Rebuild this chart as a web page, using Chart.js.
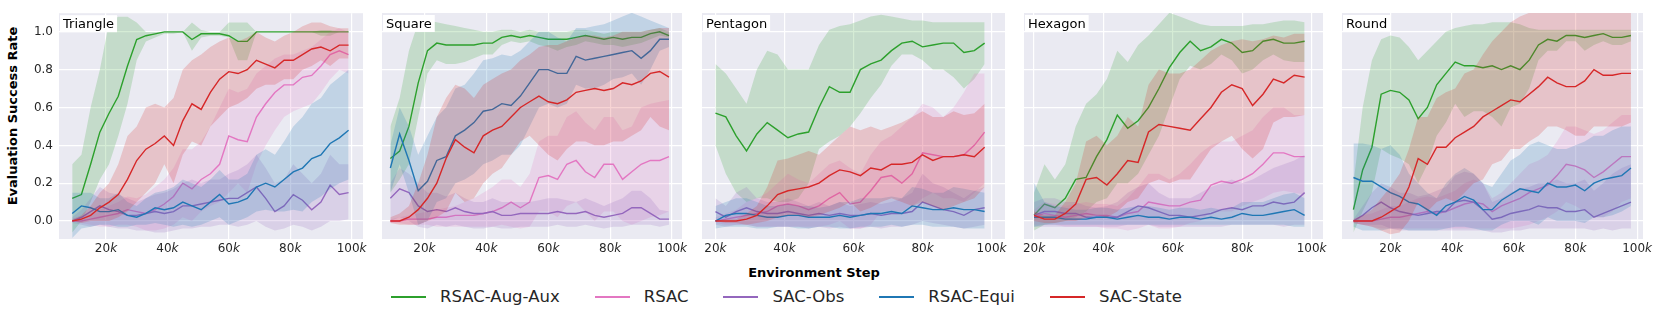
<!DOCTYPE html>
<html>
<head>
<meta charset="utf-8">
<script src="https://cdn.jsdelivr.net/npm/chart.js@4.4.0/dist/chart.umd.min.js"></script>
<style>
body { margin: 0; background: #fff; width: 1661px; height: 313px; overflow: hidden; position: relative; font-family: "DejaVu Sans", sans-serif; color: #262626; }
canvas { position: absolute; top: 0; }
#ylabel { position: absolute; left: 12px; top: 116px; transform: translate(-50%, -50%) rotate(-90deg); font-weight: bold; font-size: 13px; white-space: nowrap; color: #000; }
#xlabel { position: absolute; left: 814px; top: 272px; transform: translate(-50%, -50%); font-weight: bold; font-size: 13px; white-space: nowrap; color: #000; }
#legend { position: absolute; left: 391px; top: 286px; display: flex; align-items: center; font-size: 16.5px; height: 21px; }
.item { display: flex; align-items: center; margin-right: 35px; }
.swatch { width: 35px; height: 2px; margin-right: 14px; }
</style>
</head>
<body>
<div id="ylabel">Evaluation Success Rate</div>
<div id="xlabel">Environment Step</div>
<div id="legend"></div>
<script>
const shapes = ["Triangle", "Square", "Pentagon", "Hexagon", "Round"]
const methods = ["RSAC-Aug-Aux", "RSAC", "SAC-Obs", "RSAC-Equi", "SAC-State"]
const colors = ["44,160,44", "227,119,194", "148,103,189", "31,119,180", "214,39,40"]
const yTicks = [0.0, 0.2, 0.4, 0.6, 0.8, 1.0]
const xTicks = [20, 40, 60, 80, 100]

// environment steps (thousands)
const triSteps = [9,12,15,18,21,24,27,30,33,36,39,42,45,48,51,54,57,60,63,66,69,72,75,78,81,84,87,90,93,96,99]
const sqSteps = [9,12,15,18,21,24,27,30,33,36,39,42,45,48,51,54,57,60,63,66,69,72,75,78,81,84,87,90,93,96,99]
const pentSteps = [20,23,26,29,32,35,38,41,44,47,50,53,56,59,62,65,68,71,74,77,80,83,86,89,92,95,98]
const hexSteps = [20,23,26,29,32,35,38,41,44,47,50,53,56,59,62,65,68,71,74,77,80,83,86,89,92,95,98]
const rndSteps = [8,11,14,17,20,23,26,29,32,35,38,41,44,47,50,53,56,59,62,65,68,71,74,77,80,83,86,89,92,95,98]

// Triangle
const triAugAux = [0.12,0.14,0.3,0.47,0.57,0.66,0.82,0.96,0.98,0.99,1.0,1.0,1.0,0.96,0.99,0.99,0.99,0.98,0.95,0.95,1.0,1.0,1.0,1.0,1.0,1.0,1.0,1.0,1.0,1.0,1.0]
const triAugAuxLo = [-0.06,0.0,0.1,0.22,0.3,0.45,0.62,0.85,0.95,0.97,0.99,0.99,1.0,0.9,0.97,0.98,0.98,0.97,0.85,0.85,1.0,1.0,1.0,1.0,1.0,1.0,1.0,0.98,0.98,1.0,1.0]
const triAugAuxHi = [0.3,0.35,0.6,0.8,1.05,1.08,1.08,1.05,1.0,1.0,1.0,1.0,1.0,1.05,1.01,1.0,1.0,1.05,1.05,1.05,1.0,1.0,1.0,1.0,1.0,1.0,1.0,1.01,1.01,1.0,1.0]
const triRsac = [0.0,0.0,0.01,0.02,0.03,0.04,0.06,0.05,0.04,0.06,0.09,0.13,0.2,0.17,0.22,0.25,0.3,0.45,0.43,0.42,0.55,0.62,0.68,0.72,0.72,0.76,0.77,0.82,0.88,0.9,0.88]
const triRsacLo = [0.0,-0.01,-0.02,-0.03,-0.03,-0.02,-0.02,-0.03,-0.05,-0.05,-0.04,-0.02,0.02,0.0,0.05,0.08,0.1,0.15,0.2,0.15,0.3,0.4,0.48,0.55,0.58,0.6,0.62,0.68,0.75,0.8,0.78]
const triRsacHi = [0.01,0.02,0.04,0.06,0.08,0.1,0.13,0.12,0.14,0.18,0.22,0.28,0.38,0.38,0.42,0.5,0.6,0.7,0.68,0.7,0.78,0.82,0.86,0.88,0.88,0.9,0.92,0.96,1.0,1.02,1.0]
const triSacObs = [0.0,0.02,0.05,0.08,0.06,0.05,0.03,0.03,0.04,0.05,0.04,0.05,0.08,0.08,0.09,0.1,0.11,0.12,0.12,0.15,0.18,0.12,0.05,0.08,0.14,0.11,0.06,0.1,0.19,0.14,0.15]
const triSacObsLo = [-0.01,-0.02,-0.03,-0.02,-0.03,-0.04,-0.04,-0.05,-0.05,-0.06,-0.06,-0.05,-0.04,-0.04,-0.03,-0.03,-0.02,-0.02,-0.03,-0.02,0.0,-0.03,-0.05,-0.04,-0.02,-0.03,-0.05,-0.03,0.0,0.0,0.01]
const triSacObsHi = [0.02,0.06,0.12,0.18,0.15,0.14,0.12,0.1,0.12,0.14,0.15,0.17,0.2,0.22,0.2,0.22,0.22,0.25,0.27,0.3,0.35,0.28,0.2,0.22,0.3,0.25,0.2,0.25,0.35,0.3,0.3]
const triRsacEqui = [0.04,0.08,0.07,0.05,0.05,0.06,0.03,0.02,0.04,0.07,0.06,0.07,0.1,0.08,0.06,0.1,0.14,0.09,0.1,0.12,0.18,0.2,0.18,0.22,0.26,0.28,0.33,0.35,0.41,0.44,0.48]
const triRsacEquiLo = [-0.09,-0.04,-0.03,-0.02,-0.02,-0.03,-0.03,-0.02,-0.02,-0.01,-0.02,-0.03,-0.02,-0.03,-0.02,0.0,0.02,-0.02,0.0,0.02,0.05,0.06,0.05,0.05,0.06,0.05,0.1,0.13,0.17,0.2,0.22]
const triRsacEquiHi = [0.15,0.15,0.15,0.12,0.12,0.15,0.1,0.08,0.12,0.15,0.16,0.18,0.22,0.2,0.18,0.22,0.27,0.22,0.22,0.25,0.35,0.38,0.35,0.42,0.5,0.55,0.62,0.65,0.72,0.76,0.8]
const triSacState = [0.0,0.01,0.03,0.07,0.1,0.14,0.22,0.32,0.38,0.41,0.45,0.4,0.53,0.62,0.59,0.68,0.75,0.79,0.78,0.8,0.85,0.83,0.81,0.85,0.85,0.88,0.91,0.92,0.9,0.93,0.93]
const triSacStateLo = [0.0,-0.01,0.0,0.0,0.0,0.02,0.05,0.1,0.15,0.2,0.3,0.2,0.35,0.42,0.4,0.5,0.55,0.6,0.62,0.65,0.7,0.72,0.72,0.75,0.75,0.8,0.82,0.85,0.82,0.86,0.86]
const triSacStateHi = [0.01,0.03,0.08,0.15,0.2,0.3,0.45,0.5,0.6,0.62,0.6,0.65,0.8,0.85,0.88,0.92,0.95,0.97,0.95,0.97,1.0,0.97,0.95,0.98,1.0,1.03,1.05,1.05,1.03,1.02,1.02]

// Square
const sqAugAux = [0.33,0.37,0.5,0.73,0.9,0.94,0.93,0.93,0.93,0.93,0.94,0.94,0.97,0.98,0.97,0.98,0.97,0.96,0.96,0.96,0.97,0.98,0.97,0.96,0.97,0.96,0.97,0.97,0.99,1.0,0.98]
const sqAugAuxLo = [0.15,0.22,0.3,0.55,0.78,0.85,0.83,0.83,0.84,0.86,0.88,0.88,0.93,0.95,0.94,0.95,0.93,0.92,0.9,0.92,0.93,0.95,0.94,0.93,0.93,0.92,0.93,0.94,0.96,0.98,0.97]
const sqAugAuxHi = [0.5,0.65,0.9,1.05,1.06,1.05,1.04,1.03,1.02,1.01,1.0,1.0,1.01,1.01,1.0,1.01,1.0,1.0,1.0,1.0,1.01,1.01,1.0,0.99,1.0,1.0,1.0,1.0,1.01,1.02,1.0]
const sqRsac = [0.0,0.0,0.01,0.01,0.01,0.02,0.02,0.03,0.03,0.03,0.04,0.05,0.07,0.1,0.07,0.1,0.23,0.24,0.22,0.3,0.32,0.26,0.23,0.3,0.3,0.22,0.26,0.3,0.32,0.32,0.34]
const sqRsacLo = [-0.01,-0.01,-0.02,-0.02,-0.02,-0.03,-0.03,-0.03,-0.03,-0.03,-0.03,-0.03,-0.02,-0.03,-0.04,-0.03,0.05,0.05,0.02,0.08,0.1,0.05,0.0,0.05,0.05,0.0,-0.02,0.0,0.02,0.03,0.05]
const sqRsacHi = [0.01,0.02,0.03,0.04,0.05,0.06,0.07,0.08,0.1,0.12,0.15,0.18,0.22,0.22,0.18,0.25,0.42,0.45,0.45,0.55,0.58,0.52,0.48,0.55,0.55,0.48,0.5,0.6,0.62,0.63,0.64]
const sqSacObs = [0.12,0.17,0.15,0.08,0.05,0.06,0.05,0.07,0.05,0.04,0.04,0.05,0.03,0.03,0.04,0.04,0.04,0.04,0.05,0.04,0.04,0.05,0.03,0.02,0.03,0.04,0.07,0.07,0.04,0.01,0.01]
const sqSacObsLo = [0.0,0.02,0.0,-0.03,-0.04,-0.02,-0.03,-0.02,-0.03,-0.04,-0.04,-0.03,-0.04,-0.04,-0.03,-0.03,-0.03,-0.03,-0.02,-0.03,-0.03,-0.02,-0.03,-0.04,-0.03,-0.03,-0.02,-0.02,-0.02,-0.03,-0.02]
const sqSacObsHi = [0.2,0.28,0.25,0.2,0.15,0.15,0.13,0.15,0.12,0.1,0.1,0.12,0.1,0.1,0.1,0.1,0.11,0.12,0.12,0.11,0.1,0.12,0.1,0.08,0.1,0.12,0.16,0.16,0.12,0.06,0.05]
const sqRsacEqui = [0.28,0.46,0.32,0.16,0.21,0.32,0.34,0.45,0.48,0.52,0.58,0.59,0.62,0.61,0.66,0.73,0.8,0.8,0.78,0.78,0.87,0.85,0.86,0.87,0.88,0.89,0.9,0.86,0.9,0.96,0.96]
const sqRsacEquiLo = [0.15,0.3,0.15,-0.02,0.0,0.1,0.12,0.2,0.22,0.25,0.3,0.32,0.35,0.35,0.4,0.5,0.6,0.62,0.6,0.62,0.72,0.7,0.7,0.72,0.75,0.76,0.78,0.72,0.8,0.9,0.92]
const sqRsacEquiHi = [0.4,0.6,0.5,0.35,0.45,0.55,0.6,0.7,0.72,0.78,0.85,0.86,0.88,0.87,0.9,0.95,1.0,1.0,0.97,0.95,1.02,1.02,1.03,1.04,1.06,1.08,1.1,1.08,1.06,1.04,1.02]
const sqSacState = [0.0,0.0,0.02,0.06,0.12,0.2,0.33,0.43,0.39,0.36,0.45,0.48,0.5,0.55,0.6,0.63,0.66,0.63,0.62,0.64,0.68,0.69,0.7,0.69,0.7,0.73,0.72,0.74,0.78,0.79,0.76]
const sqSacStateLo = [-0.01,-0.02,-0.02,-0.02,0.0,0.02,0.05,0.15,0.1,0.12,0.2,0.25,0.28,0.35,0.42,0.45,0.4,0.35,0.32,0.38,0.42,0.42,0.4,0.4,0.42,0.42,0.45,0.48,0.55,0.5,0.48]
const sqSacStateHi = [0.02,0.04,0.08,0.2,0.35,0.55,0.65,0.72,0.7,0.65,0.72,0.75,0.78,0.8,0.85,0.88,0.92,0.93,0.93,0.95,0.97,0.98,0.98,0.97,0.98,1.0,1.0,1.0,1.01,1.02,1.02]

// Pentagon
const pentAugAux = [0.57,0.55,0.45,0.37,0.46,0.52,0.48,0.44,0.46,0.47,0.6,0.71,0.68,0.68,0.8,0.83,0.85,0.9,0.94,0.95,0.92,0.93,0.94,0.94,0.89,0.9,0.94]
const pentAugAuxLo = [0.4,0.25,0.15,0.1,0.12,0.12,0.1,0.1,0.12,0.2,0.38,0.42,0.45,0.5,0.57,0.65,0.72,0.82,0.88,0.88,0.85,0.8,0.8,0.76,0.7,0.75,0.83]
const pentAugAuxHi = [0.83,0.78,0.7,0.62,0.8,0.9,0.88,0.8,0.8,0.8,0.93,1.01,1.03,1.04,1.06,1.08,1.09,1.08,1.07,1.06,1.06,1.05,1.05,1.05,1.05,1.05,1.05]
const pentRsac = [0.0,0.01,0.02,0.03,0.04,0.05,0.08,0.09,0.08,0.06,0.08,0.12,0.15,0.09,0.1,0.16,0.23,0.24,0.2,0.25,0.36,0.35,0.34,0.34,0.35,0.4,0.47]
const pentRsacLo = [-0.01,-0.02,-0.02,-0.02,-0.03,-0.03,-0.03,-0.03,-0.03,-0.03,-0.03,-0.02,0.0,-0.04,-0.04,-0.02,0.05,0.05,0.05,0.08,0.12,0.15,0.12,0.12,0.1,0.15,0.2]
const pentRsacHi = [0.02,0.04,0.06,0.1,0.12,0.15,0.2,0.25,0.22,0.2,0.25,0.3,0.32,0.28,0.25,0.35,0.42,0.45,0.5,0.55,0.62,0.6,0.55,0.6,0.68,0.78,0.78]
const pentSacObs = [0.05,0.02,0.05,0.07,0.05,0.04,0.04,0.05,0.04,0.03,0.04,0.03,0.04,0.03,0.03,0.04,0.03,0.04,0.04,0.05,0.1,0.08,0.06,0.05,0.03,0.06,0.07]
const pentSacObsLo = [-0.02,-0.03,-0.02,-0.02,-0.03,-0.03,-0.03,-0.03,-0.03,-0.04,-0.03,-0.04,-0.03,-0.04,-0.04,-0.03,-0.04,-0.03,-0.03,-0.02,0.0,-0.01,-0.02,-0.03,-0.04,-0.03,-0.02]
const pentSacObsHi = [0.12,0.08,0.15,0.18,0.12,0.1,0.1,0.12,0.1,0.08,0.1,0.08,0.1,0.08,0.09,0.1,0.09,0.1,0.12,0.15,0.25,0.2,0.18,0.15,0.12,0.16,0.18]
const pentRsacEqui = [0.0,0.03,0.04,0.04,0.03,0.02,0.02,0.03,0.03,0.02,0.02,0.02,0.03,0.02,0.03,0.04,0.04,0.05,0.04,0.08,0.07,0.06,0.06,0.07,0.06,0.06,0.05]
const pentRsacEquiLo = [-0.04,-0.03,-0.03,-0.03,-0.04,-0.04,-0.03,-0.03,-0.04,-0.04,-0.03,-0.03,-0.04,-0.04,-0.03,-0.03,-0.03,-0.02,-0.03,-0.02,-0.02,-0.03,-0.03,-0.03,-0.04,-0.04,-0.04]
const pentRsacEquiHi = [0.08,0.1,0.12,0.12,0.1,0.08,0.08,0.09,0.08,0.08,0.07,0.08,0.1,0.1,0.12,0.12,0.12,0.13,0.12,0.18,0.17,0.15,0.15,0.18,0.17,0.16,0.15]
const pentSacState = [0.0,0.0,0.0,0.01,0.03,0.08,0.14,0.16,0.17,0.18,0.2,0.24,0.27,0.26,0.24,0.28,0.27,0.3,0.3,0.31,0.35,0.32,0.34,0.34,0.35,0.34,0.39]
const pentSacStateLo = [0.0,-0.01,-0.01,-0.02,-0.01,0.0,0.02,0.03,0.03,0.02,0.03,0.05,0.07,0.1,0.05,0.07,0.1,0.12,0.1,0.08,0.1,0.08,0.06,0.08,0.1,0.12,0.18]
const pentSacStateHi = [0.0,0.01,0.01,0.04,0.08,0.18,0.32,0.33,0.35,0.37,0.35,0.4,0.45,0.5,0.48,0.5,0.48,0.5,0.52,0.55,0.58,0.55,0.55,0.58,0.56,0.57,0.62]

// Hexagon
const hexAugAux = [0.03,0.09,0.07,0.12,0.22,0.23,0.34,0.43,0.56,0.49,0.53,0.6,0.7,0.81,0.89,0.95,0.9,0.92,0.96,0.94,0.89,0.9,0.95,0.96,0.94,0.94,0.95]
const hexAugAuxLo = [-0.05,-0.02,-0.01,0.0,0.02,0.05,0.1,0.12,0.2,0.2,0.25,0.35,0.45,0.6,0.75,0.82,0.8,0.83,0.88,0.85,0.78,0.8,0.85,0.88,0.85,0.84,0.84]
const hexAugAuxHi = [0.15,0.3,0.22,0.3,0.5,0.62,0.67,0.75,0.9,0.84,0.93,0.98,1.04,1.1,1.08,1.06,1.04,1.03,1.03,1.03,1.03,1.04,1.04,1.05,1.06,1.06,1.05]
const hexRsac = [0.02,0.04,0.03,0.02,0.03,0.04,0.03,0.03,0.02,0.04,0.05,0.1,0.09,0.08,0.08,0.1,0.11,0.19,0.21,0.2,0.22,0.25,0.3,0.36,0.36,0.34,0.34]
const hexRsacLo = [-0.02,-0.02,-0.02,-0.03,-0.03,-0.03,-0.03,-0.04,-0.04,-0.05,-0.04,-0.02,-0.04,-0.04,-0.03,-0.01,0.0,0.05,0.05,0.05,0.08,0.1,0.12,0.15,0.16,0.15,0.14]
const hexRsacHi = [0.06,0.1,0.09,0.08,0.09,0.1,0.09,0.09,0.08,0.12,0.18,0.25,0.25,0.22,0.25,0.3,0.36,0.4,0.42,0.42,0.45,0.48,0.55,0.6,0.6,0.56,0.56]
const hexSacObs = [0.03,0.05,0.05,0.04,0.04,0.02,0.02,0.02,0.02,0.05,0.08,0.07,0.05,0.03,0.03,0.02,0.03,0.04,0.06,0.07,0.06,0.08,0.08,0.1,0.09,0.1,0.15]
const hexSacObsLo = [-0.03,-0.03,-0.03,-0.03,-0.03,-0.03,-0.03,-0.03,-0.03,-0.02,-0.02,-0.02,-0.03,-0.03,-0.03,-0.03,-0.03,-0.03,-0.03,-0.02,-0.02,-0.02,-0.02,-0.02,-0.03,-0.02,-0.02]
const hexSacObsHi = [0.1,0.12,0.12,0.1,0.1,0.08,0.07,0.08,0.1,0.15,0.18,0.2,0.15,0.12,0.12,0.12,0.15,0.18,0.2,0.22,0.2,0.22,0.25,0.28,0.3,0.32,0.35]
const hexRsacEqui = [0.02,0.02,0.02,0.01,0.01,0.01,0.02,0.02,0.01,0.02,0.03,0.02,0.02,0.01,0.02,0.02,0.01,0.02,0.01,0.02,0.04,0.03,0.03,0.04,0.05,0.06,0.03]
const hexRsacEquiLo = [-0.03,-0.02,-0.02,-0.02,-0.02,-0.02,-0.02,-0.02,-0.02,-0.02,-0.02,-0.02,-0.02,-0.02,-0.02,-0.02,-0.02,-0.02,-0.02,-0.02,-0.02,-0.02,-0.02,-0.02,-0.02,-0.03,-0.03]
const hexRsacEquiHi = [0.2,0.1,0.08,0.07,0.06,0.06,0.07,0.07,0.06,0.07,0.08,0.08,0.07,0.06,0.07,0.07,0.06,0.07,0.06,0.07,0.1,0.1,0.1,0.12,0.14,0.15,0.12]
const hexSacState = [0.03,0.01,0.01,0.04,0.09,0.22,0.23,0.19,0.25,0.32,0.31,0.47,0.51,0.5,0.49,0.48,0.54,0.6,0.68,0.72,0.7,0.61,0.67,0.75,0.73,0.77,0.76]
const hexSacStateLo = [0.0,-0.01,-0.01,0.0,0.0,0.02,0.03,0.02,0.05,0.1,0.12,0.2,0.22,0.2,0.22,0.22,0.3,0.38,0.42,0.45,0.38,0.33,0.38,0.52,0.55,0.55,0.56]
const hexSacStateHi = [0.05,0.03,0.03,0.1,0.2,0.42,0.45,0.4,0.45,0.55,0.5,0.72,0.8,0.78,0.78,0.8,0.85,0.9,0.93,0.95,0.96,0.95,0.96,0.98,0.97,0.99,0.99]

// Round
const rndAugAux = [0.06,0.27,0.39,0.67,0.69,0.68,0.64,0.54,0.6,0.72,0.78,0.84,0.82,0.82,0.81,0.82,0.8,0.82,0.8,0.85,0.93,0.96,0.95,0.98,0.98,0.97,0.98,0.99,0.97,0.97,0.98]
const rndAugAuxLo = [-0.06,0.05,0.15,0.38,0.35,0.33,0.3,0.2,0.3,0.45,0.52,0.62,0.55,0.58,0.58,0.55,0.5,0.6,0.62,0.7,0.85,0.9,0.9,0.95,0.95,0.9,0.93,0.95,0.93,0.93,0.95]
const rndAugAuxHi = [0.2,0.6,0.85,0.96,0.98,0.97,0.92,0.85,0.9,0.95,1.0,1.02,1.03,1.04,1.04,1.05,1.05,1.05,1.04,1.02,1.01,1.01,1.01,1.01,1.01,1.01,1.01,1.01,1.01,1.01,1.01]
const rndRsac = [0.0,0.0,0.0,0.01,0.02,0.02,0.03,0.04,0.05,0.04,0.05,0.07,0.09,0.1,0.09,0.05,0.08,0.1,0.12,0.15,0.17,0.19,0.24,0.3,0.29,0.27,0.23,0.26,0.3,0.34,0.34]
const rndRsacLo = [-0.01,-0.02,-0.03,-0.04,-0.04,-0.04,-0.04,-0.04,-0.04,-0.04,-0.04,-0.04,-0.04,-0.04,-0.04,-0.04,-0.04,-0.04,-0.03,-0.02,0.0,0.02,0.05,0.1,0.08,0.05,0.02,0.02,0.05,0.1,0.12]
const rndRsacHi = [0.01,0.03,0.04,0.06,0.08,0.08,0.1,0.12,0.13,0.12,0.14,0.16,0.2,0.22,0.2,0.12,0.15,0.2,0.25,0.3,0.32,0.35,0.42,0.5,0.5,0.48,0.46,0.48,0.52,0.56,0.56]
const rndSacObs = [0.0,0.03,0.07,0.1,0.07,0.05,0.04,0.03,0.04,0.05,0.05,0.1,0.11,0.1,0.06,0.01,0.02,0.04,0.05,0.06,0.08,0.07,0.07,0.05,0.05,0.06,0.02,0.04,0.06,0.08,0.1]
const rndSacObsLo = [-0.01,-0.02,-0.02,-0.02,-0.04,-0.05,-0.05,-0.05,-0.05,-0.05,-0.05,-0.05,-0.05,-0.05,-0.05,-0.06,-0.06,-0.05,-0.05,-0.04,-0.04,-0.04,-0.04,-0.04,-0.04,-0.04,-0.05,-0.04,-0.05,-0.04,-0.04]
const rndSacObsHi = [0.01,0.08,0.15,0.2,0.18,0.15,0.15,0.13,0.14,0.16,0.18,0.24,0.26,0.25,0.2,0.1,0.12,0.15,0.17,0.18,0.2,0.2,0.22,0.2,0.2,0.22,0.16,0.2,0.25,0.28,0.3]
const rndRsacEqui = [0.23,0.21,0.21,0.18,0.15,0.13,0.1,0.09,0.06,0.03,0.08,0.1,0.13,0.11,0.06,0.06,0.11,0.14,0.17,0.16,0.15,0.2,0.18,0.18,0.19,0.16,0.2,0.22,0.23,0.24,0.28]
const rndRsacEquiLo = [-0.03,-0.05,-0.05,-0.05,-0.04,-0.04,-0.05,-0.05,-0.05,-0.05,-0.04,-0.03,-0.03,-0.04,-0.05,-0.05,-0.02,0.0,0.0,0.0,-0.02,0.02,0.0,0.0,0.0,-0.01,0.02,0.02,0.03,0.05,0.08]
const rndRsacEquiHi = [0.41,0.41,0.4,0.38,0.4,0.35,0.25,0.2,0.15,0.12,0.2,0.25,0.28,0.25,0.2,0.18,0.25,0.32,0.35,0.4,0.42,0.4,0.38,0.38,0.4,0.42,0.45,0.45,0.48,0.5,0.5]
const rndSacState = [0.0,0.0,0.0,0.02,0.05,0.08,0.18,0.33,0.3,0.39,0.39,0.44,0.47,0.5,0.55,0.58,0.61,0.64,0.63,0.67,0.71,0.76,0.73,0.71,0.71,0.74,0.8,0.77,0.77,0.78,0.78]
const rndSacStateLo = [-0.01,-0.02,-0.03,-0.05,-0.07,-0.06,0.0,0.1,0.05,0.1,0.12,0.1,0.15,0.2,0.22,0.3,0.32,0.38,0.38,0.42,0.45,0.5,0.5,0.48,0.45,0.45,0.5,0.5,0.5,0.5,0.52]
const rndSacStateHi = [0.01,0.03,0.06,0.12,0.18,0.25,0.38,0.55,0.55,0.65,0.68,0.7,0.78,0.8,0.88,0.95,1.0,1.05,1.08,1.1,1.1,1.1,1.1,1.1,1.1,1.1,1.1,1.1,1.1,1.1,1.1]

const panels = [
    { steps: triSteps, xMin: 4.7, xMax: 103.7, series: [[triAugAux, triAugAuxLo, triAugAuxHi], [triRsac, triRsacLo, triRsacHi], [triSacObs, triSacObsLo, triSacObsHi], [triRsacEqui, triRsacEquiLo, triRsacEquiHi], [triSacState, triSacStateLo, triSacStateHi]] },
    { steps: sqSteps, xMin: 6.3, xMax: 103.2, series: [[sqAugAux, sqAugAuxLo, sqAugAuxHi], [sqRsac, sqRsacLo, sqRsacHi], [sqSacObs, sqSacObsLo, sqSacObsHi], [sqRsacEqui, sqRsacEquiLo, sqRsacEquiHi], [sqSacState, sqSacStateLo, sqSacStateHi]] },
    { steps: pentSteps, xMin: 16.1, xMax: 103.9, series: [[pentAugAux, pentAugAuxLo, pentAugAuxHi], [pentRsac, pentRsacLo, pentRsacHi], [pentSacObs, pentSacObsLo, pentSacObsHi], [pentRsacEqui, pentRsacEquiLo, pentRsacEquiHi], [pentSacState, pentSacStateLo, pentSacStateHi]] },
    { steps: hexSteps, xMin: 17.1, xMax: 103.3, series: [[hexAugAux, hexAugAuxLo, hexAugAuxHi], [hexRsac, hexRsacLo, hexRsacHi], [hexSacObs, hexSacObsLo, hexSacObsHi], [hexRsacEqui, hexRsacEquiLo, hexRsacEquiHi], [hexSacState, hexSacStateLo, hexSacStateHi]] },
    { steps: rndSteps, xMin: 4.3, xMax: 101.9, series: [[rndAugAux, rndAugAuxLo, rndAugAuxHi], [rndRsac, rndRsacLo, rndRsacHi], [rndSacObs, rndSacObsLo, rndSacObsHi], [rndRsacEqui, rndRsacEquiLo, rndRsacEquiHi], [rndSacState, rndSacStateLo, rndSacStateHi]] }
]

// plot area of each panel on the page
const plotLeft = [59, 382, 702, 1024, 1342]
const plotRight = [363, 682, 1005, 1323, 1643]
const plotTop = 13
const plotH = 226
const canvasH = 260
const axisW = 50
const padR = 10

const bgPlugin = {
    id: "bg",
    beforeDraw(chart) {
        const a = chart.chartArea
        const ctx = chart.ctx
        ctx.save()
        ctx.fillStyle = "#EAEAF2"
        ctx.fillRect(a.left, a.top, a.right - a.left, a.bottom - a.top)
        ctx.restore()
    }
}

// shape name in a white box, top-left of the panel
const titlePlugin = {
    id: "panelTitle",
    afterDraw(chart, args, opts) {
        const a = chart.chartArea
        const ctx = chart.ctx
        ctx.save()
        ctx.font = "13px 'DejaVu Sans'"
        const w = ctx.measureText(opts.text).width
        ctx.fillStyle = "#ffffff"
        ctx.fillRect(a.left + 1, a.top + 2, w + 6, 17)
        ctx.fillStyle = "#000000"
        ctx.textBaseline = "alphabetic"
        ctx.fillText(opts.text, a.left + 4, a.top + 15)
        ctx.restore()
    }
}

// x tick labels like "20k" with an italic k
const kTicksPlugin = {
    id: "kTicks",
    afterDraw(chart) {
        const sx = chart.scales.x
        const ctx = chart.ctx
        const top = chart.chartArea.bottom + 4
        ctx.save()
        ctx.fillStyle = "#262626"
        ctx.textBaseline = "top"
        xTicks.forEach(v => {
            const px = sx.getPixelForValue(v)
            const num = String(v)
            ctx.font = "12px 'DejaVu Sans'"
            const wn = ctx.measureText(num).width
            ctx.font = "italic 12px 'DejaVu Sans'"
            const wk = ctx.measureText("k").width
            const x0 = px - (wn + wk) / 2
            ctx.font = "12px 'DejaVu Sans'"
            ctx.fillText(num, x0, top)
            ctx.font = "italic 12px 'DejaVu Sans'"
            ctx.fillText("k", x0 + wn, top)
        })
        ctx.restore()
    }
}

function toPoints(steps, vals) {
    return steps.map((s, i) => ({ x: s, y: vals[i] }))
}

panels.forEach((p, k) => {
    const canvas = document.createElement("canvas")
    const w = axisW + (plotRight[k] - plotLeft[k]) + padR
    canvas.width = w
    canvas.height = canvasH
    canvas.style.left = (plotLeft[k] - axisW) + "px"
    canvas.style.width = w + "px"
    canvas.style.height = canvasH + "px"
    document.body.appendChild(canvas)

    const datasets = []
    // last series on top, like the original plotting order
    for (let m = p.series.length - 1; m >= 0; m--) {
        const [mean, lo, hi] = p.series[m]
        const c = colors[m]
        datasets.push({
            label: methods[m],
            data: toPoints(p.steps, mean),
            borderColor: `rgb(${c})`,
            borderWidth: 1.4,
            pointRadius: 0,
            fill: false,
            tension: 0
        })
        datasets.push({
            data: toPoints(p.steps, lo),
            borderWidth: 0,
            pointRadius: 0,
            fill: false
        })
        datasets.push({
            data: toPoints(p.steps, hi),
            borderWidth: 0,
            pointRadius: 0,
            backgroundColor: `rgba(${c},0.2)`,
            fill: "-1"
        })
    }

    new Chart(canvas, {
        type: "line",
        data: { datasets: datasets },
        options: {
            responsive: false,
            animation: false,
            devicePixelRatio: 1,
            layout: { padding: { top: plotTop, right: padR, left: 0, bottom: 0 } },
            plugins: {
                legend: { display: false },
                tooltip: { enabled: false },
                panelTitle: { text: shapes[k] }
            },
            scales: {
                x: {
                    type: "linear",
                    min: p.xMin,
                    max: p.xMax,
                    afterBuildTicks: s => { s.ticks = xTicks.map(v => ({ value: v })) },
                    afterFit: s => { s.height = canvasH - plotTop - plotH },
                    grid: { color: "#ffffff", lineWidth: 1.2, drawTicks: false },
                    border: { display: false },
                    ticks: { display: false }
                },
                y: {
                    min: -0.095,
                    max: 1.099,
                    afterBuildTicks: s => { s.ticks = yTicks.map(v => ({ value: v })) },
                    afterFit: s => { s.width = axisW },
                    grid: { color: "#ffffff", lineWidth: 1.2, drawTicks: false },
                    border: { display: false },
                    ticks: {
                        display: k === 0,
                        padding: 6,
                        color: "#262626",
                        font: { family: "DejaVu Sans", size: 12 },
                        callback: v => v.toFixed(1)
                    }
                }
            }
        },
        plugins: [bgPlugin, titlePlugin, kTicksPlugin]
    })
})

const legend = document.getElementById("legend")
methods.forEach((m, i) => {
    const item = document.createElement("div")
    item.className = "item"
    item.innerHTML = `<div class="swatch" style="background: rgb(${colors[i]})"></div><span>${m}</span>`
    legend.appendChild(item)
})
</script>
</body>
</html>
